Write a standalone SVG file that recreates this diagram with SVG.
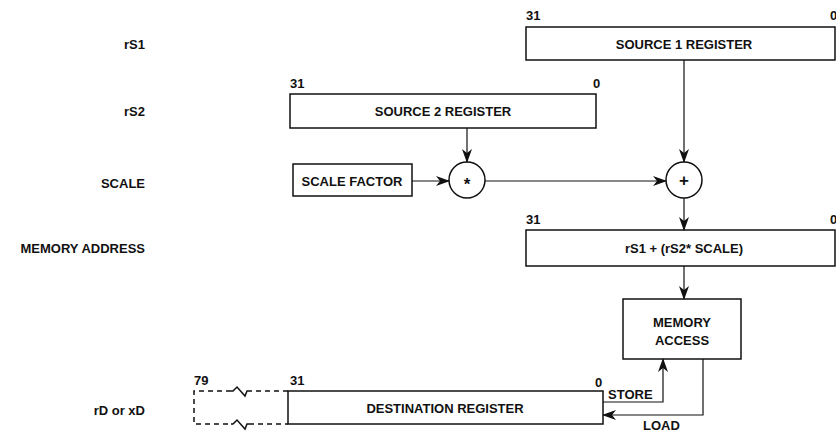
<svg xmlns="http://www.w3.org/2000/svg" width="836" height="432" viewBox="0 0 836 432">
<style>
text{font-family:"Liberation Sans",Arial,sans-serif;font-size:13px;font-weight:bold;fill:#111}
.box{fill:#fff;stroke:#111;stroke-width:1.5}
.ln{fill:none;stroke:#111;stroke-width:1.2}
.dash{fill:none;stroke:#111;stroke-width:1.5;stroke-dasharray:5,4}
.zz{fill:none;stroke:#111;stroke-width:1.5}
.lbl{text-anchor:end}
.c{text-anchor:middle}
.op{font-size:17px}
</style>
<defs>
<marker id="ah" viewBox="0 0 14 10" refX="13" refY="5" markerWidth="14" markerHeight="10" markerUnits="userSpaceOnUse" orient="auto">
<path d="M0,0 L14,5 L0,10 L4,5 z" fill="#111"/>
</marker>
</defs>
<g id="labels">
<text class="lbl" x="145" y="49">rS1</text>
<text class="lbl" x="145" y="116">rS2</text>
<text class="lbl" x="145" y="188">SCALE</text>
<text class="lbl" x="145" y="253">MEMORY ADDRESS</text>
<text class="lbl" x="145" y="415">rD or xD</text>
</g>
<g id="src1">
<rect class="box" x="526" y="27" width="309" height="33"/>
<text class="c" x="684" y="49">SOURCE 1 REGISTER</text>
<text x="526" y="20">31</text>
<text x="830" y="20">0</text>
</g>
<g id="src2">
<rect class="box" x="290" y="94" width="306" height="34"/>
<text class="c" x="443" y="116">SOURCE 2 REGISTER</text>
<text x="290" y="88">31</text>
<text x="593" y="88">0</text>
</g>
<g id="scalefactor">
<rect class="box" x="293" y="164" width="119" height="32"/>
<text class="c" x="352" y="186">SCALE FACTOR</text>
</g>
<g id="mul">
<circle class="box" cx="467" cy="180" r="18"/>
<text class="c op" x="467" y="190">*</text>
</g>
<g id="add">
<circle class="box" cx="684" cy="180" r="18"/>
<text class="c op" x="684" y="186">+</text>
</g>
<g id="memaddr">
<rect class="box" x="526" y="230" width="309" height="36"/>
<text class="c" x="684" y="253">rS1 + (rS2* SCALE)</text>
<text x="526" y="224">31</text>
<text x="830" y="224">0</text>
</g>
<g id="memaccess">
<rect class="box" x="623" y="299" width="118" height="60"/>
<text class="c" x="682" y="327">MEMORY</text>
<text class="c" x="682" y="345">ACCESS</text>
</g>
<g id="dest">
<path class="dash" d="M288,391 H249 M231,391 H194 V424 H231 M249,424 H288"/>
<path class="zz" d="M231,391 H233 L237,387 L245,396 L247,391 H249 M231,424 H233 L237,420 L245,429 L247,424 H249"/>
<rect class="box" x="288" y="391" width="315" height="33"/>
<text class="c" x="445" y="413">DESTINATION REGISTER</text>
<text x="194" y="385">79</text>
<text x="290" y="385">31</text>
<text x="595" y="387">0</text>
<text x="608" y="399">STORE</text>
<text x="643" y="430">LOAD</text>
</g>
<g id="connectors">
<path class="ln" d="M684,60 V162" marker-end="url(#ah)"/>
<path class="ln" d="M467,128 V162" marker-end="url(#ah)"/>
<path class="ln" d="M412,181 H449" marker-end="url(#ah)"/>
<path class="ln" d="M485,181 H666" marker-end="url(#ah)"/>
<path class="ln" d="M684,198 V230" marker-end="url(#ah)"/>
<path class="ln" d="M684,266 V299" marker-end="url(#ah)"/>
<path class="ln" d="M603,402 H663 V359" marker-end="url(#ah)"/>
<path class="ln" d="M703,359 V415 H603" marker-end="url(#ah)"/>
</g>
</svg>
